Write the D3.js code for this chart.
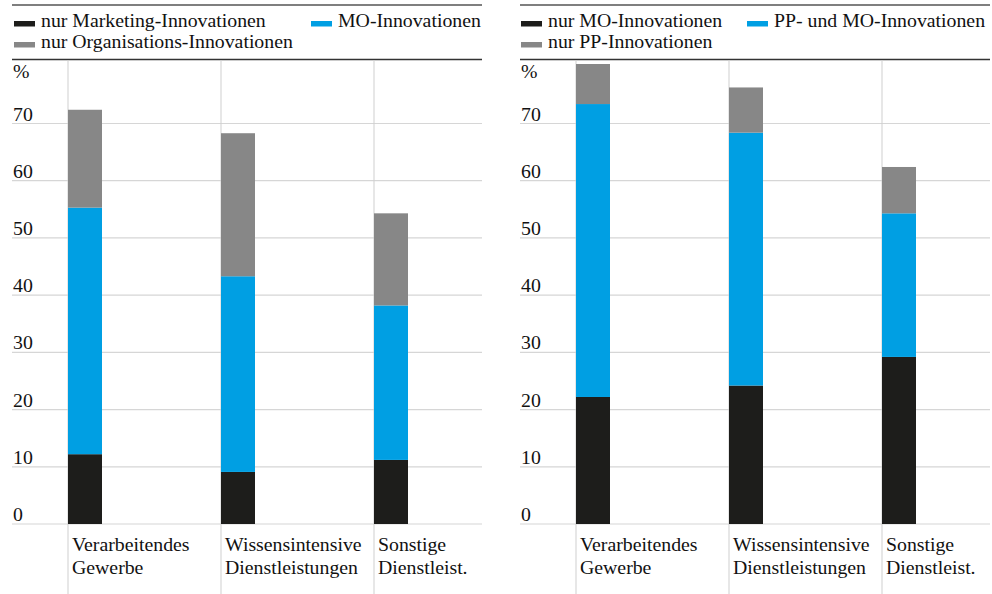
<!DOCTYPE html>
<html><head><meta charset="utf-8">
<script src="https://cdn.jsdelivr.net/npm/d3@7"></script>
<style>
html,body{margin:0;padding:0;background:#fff;}
svg text{font-family:"Liberation Serif","Times New Roman",serif;fill:#111;}
</style></head>
<body>
<svg id="c" width="992" height="594"></svg>
<script>
const categories = [["Verarbeitendes","Gewerbe"],["Wissensintensive","Dienstleistungen"],["Sonstige","Dienstleist."]];
const yTicks = [0,10,20,30,40,50,60,70];

// left panel
const leftSeries = ["nur Marketing-Innovationen","MO-Innovationen","nur Organisations-Innovationen"];
const leftBlack = [12.2, 9.1, 11.2];
const leftBlue  = [43.1, 34.2, 27.0];
const leftGray  = [17.1, 25.0, 16.1];

// right panel
const rightSeries = ["nur MO-Innovationen","PP- und MO-Innovationen","nur PP-Innovationen"];
const rightBlack = [22.2, 24.2, 29.2];
const rightBlue  = [51.2, 44.2, 25.1];
const rightGray  = [7.0, 7.9, 8.1];

const colors = ["#1d1d1b","#009fe3","#878787"];
const SX = 1.1, FS = 18;
const svg = d3.select("#c");

function txt(g, s, x, y, anchor){
  return g.append("text").attr("transform",`translate(${x},${y}) scale(${SX},1)`)
    .attr("font-size",FS).attr("text-anchor",anchor||"start").text(s);
}

function panel(opts){
  const {x0, x1, series, data, legendPos} = opts;
  const g = svg.append("g");
  const y = d3.scaleLinear().domain([0,70]).range([524,123.5]);
  const keys = categories.map(c=>c.join(" "));
  const x = d3.scalePoint().domain(keys).range([x0+56, x0+362]);
  const barW = 34;

  // rules
  g.append("line").attr("x1",x0).attr("x2",x1).attr("y1",5).attr("y2",5).attr("stroke","#555").attr("stroke-width",1.3);
  g.append("line").attr("x1",x0).attr("x2",x1).attr("y1",59.5).attr("y2",59.5).attr("stroke","#333").attr("stroke-width",1.3);

  // legend
  series.forEach((s,i)=>{
    const p = legendPos[i];
    g.append("rect").attr("x",p[0]).attr("y",p[1]-6).attr("width",21).attr("height",5.5).attr("fill",colors[i]);
    txt(g, s, p[0]+27, p[1]);
  });

  // gridlines
  g.selectAll(".grid").data(yTicks).join("line")
    .attr("x1",x0).attr("x2",x1).attr("y1",d=>y(d)).attr("y2",d=>y(d))
    .attr("stroke","#d6d6d6").attr("stroke-width",1.2);
  // vertical category lines
  g.selectAll(".vl").data(keys).join("line")
    .attr("x1",d=>x(d)).attr("x2",d=>x(d)).attr("y1",60).attr("y2",594)
    .attr("stroke","#cfcfcf").attr("stroke-width",1);
  // tick labels
  yTicks.forEach(t=>txt(g, String(t), x0+1, y(t)-3));
  txt(g, "%", x0+1, 78);

  // stacked bars
  const rows = keys.map((k,i)=>({key:k, a:data[0][i], b:data[1][i], c:data[2][i]}));
  const stack = d3.stack().keys(["a","b","c"])(rows);
  stack.forEach((layer,li)=>{
    g.selectAll(null).data(layer).join("rect")
      .attr("x",d=>x(d.data.key)).attr("width",barW)
      .attr("y",d=>y(d[1])).attr("height",d=>y(d[0])-y(d[1]))
      .attr("fill",colors[li]);
  });

  // category labels
  categories.forEach((c,i)=>{
    const k = keys[i];
    txt(g, c[0], x(k)+4, 551);
    txt(g, c[1], x(k)+4, 574);
  });
}

panel({x0:12, x1:482, series:leftSeries, data:[leftBlack,leftBlue,leftGray],
  legendPos:[[14,27],[311,27],[14,48]]});
panel({x0:520, x1:990, series:rightSeries, data:[rightBlack,rightBlue,rightGray],
  legendPos:[[521,27],[747,27],[521,48]]});
</script>
</body></html>
